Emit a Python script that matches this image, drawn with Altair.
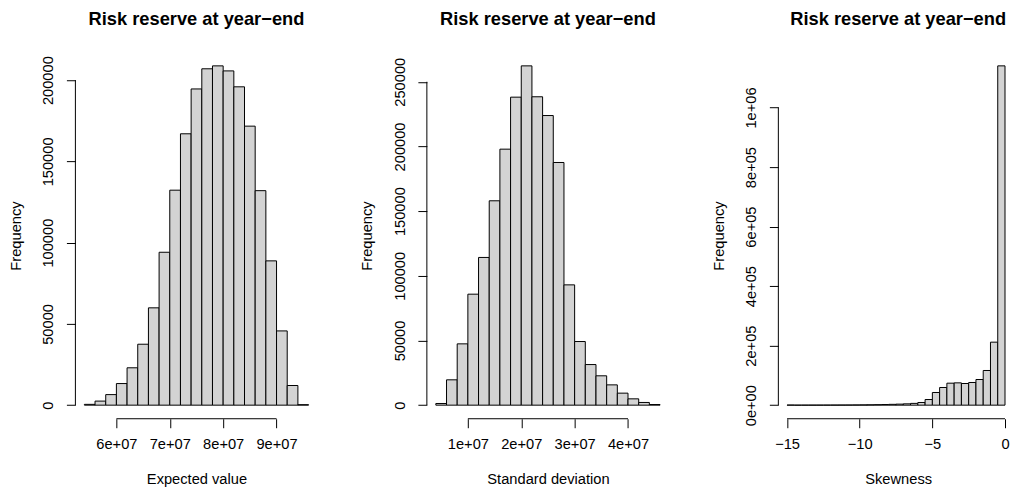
import json
import altair as alt
import pandas as pd

# ---------------- data ----------------
ev_breaks = [54e6, 56e6, 58e6, 60e6, 62e6, 64e6, 66e6, 68e6, 70e6, 72e6, 74e6,
             76e6, 78e6, 80e6, 82e6, 84e6, 86e6, 88e6, 90e6, 92e6, 94e6, 96e6]
ev_counts = [500, 2500, 6500, 13300, 23000, 37500, 59900, 94100, 132300, 167000,
             194600, 207000, 208800, 205700, 195900, 171700, 132000, 88800, 45700,
             12100, 300]
ev_xticks = [60e6, 70e6, 80e6, 90e6]
ev_xlabels = ["6e+07", "7e+07", "8e+07", "9e+07"]
ev_yticks = [0, 50000, 100000, 150000, 200000]
ev_ylabels = ["0", "50000", "100000", "150000", "200000"]

sd_breaks = [4e6, 6e6, 8e6, 10e6, 12e6, 14e6, 16e6, 18e6, 20e6, 22e6, 24e6,
             26e6, 28e6, 30e6, 32e6, 34e6, 36e6, 38e6, 40e6, 42e6, 44e6, 46e6]
sd_counts = [1300, 19600, 47400, 85800, 114200, 158000, 197900, 238100, 262300,
             238400, 223900, 187600, 93000, 49200, 31400, 22700, 15700, 9300,
             4900, 2100, 500]
sd_xticks = [10e6, 20e6, 30e6, 40e6]
sd_xlabels = ["1e+07", "2e+07", "3e+07", "4e+07"]
sd_yticks = [0, 50000, 100000, 150000, 200000, 250000]
sd_ylabels = ["0", "50000", "100000", "150000", "200000", "250000"]

sk_breaks = [-15, -14.5, -14, -13.5, -13, -12.5, -12, -11.5, -11, -10.5, -10,
             -9.5, -9, -8.5, -8, -7.5, -7, -6.5, -6, -5.5, -5, -4.5, -4, -3.5,
             -3, -2.5, -2, -1.5, -1, -0.5, 0]
sk_counts = [400, 100, 150, 200, 250, 300, 400, 500, 600, 800, 1000, 1300, 1700,
             2200, 2800, 3500, 4500, 6000, 9000, 19000, 42600, 59400, 73900,
             75000, 72800, 76200, 86200, 116500, 211700, 1140000]
sk_xticks = [-15, -10, -5, 0]
sk_xlabels = ["\u221215", "\u221210", "\u22125", "0"]
sk_yticks = [0, 200000, 400000, 600000, 800000, 1000000]
sk_ylabels = ["0e+00", "2e+05", "4e+05", "6e+05", "8e+05", "1e+06"]

main_title = "Risk reserve at year\u2212end"
x_titles = ["Expected value", "Standard deviation", "Skewness"]

FONT = "Liberation Sans"
FS = 14.7
H = 367


def lookup_expr(ticks, labels):
    return f"{json.dumps(labels)}[indexof({json.dumps(ticks)}, datum.value)]"


def panel(breaks, counts, xticks, xlabels, yticks, ylabels, xtitle, xdomain, width,
          shift=0.0):
    df = pd.DataFrame({"lo": breaks[:-1], "hi": breaks[1:], "count": counts})
    ymax = max(counts)
    xscale = alt.Scale(domain=xdomain, range=[0, width], nice=False, zero=False)
    yscale = alt.Scale(domain=[-0.04 * ymax, 1.04 * ymax], range=[H, 0],
                       nice=False, zero=False)

    xaxis = alt.Axis(
        values=xticks, labelExpr=lookup_expr(xticks, xlabels), domain=False,
        grid=False, tickSize=9, tickColor="black", tickWidth=1,
        labelFont=FONT, labelFontSize=FS, labelColor="black",
        labelBaseline="alphabetic", labelPadding=21, labelFlush=False,
        labelOverlap=False, title=xtitle, titleFont=FONT, titleFontSize=FS,
        titleFontWeight="normal", titleColor="black", titleX=width / 2 + shift,
        titleY=65, titleBaseline="alphabetic", titleAlign="center",
    )
    yaxis = alt.Axis(
        values=yticks, labelExpr=lookup_expr(yticks, ylabels), domain=False,
        grid=False, tickSize=9, tickColor="black", tickWidth=1,
        labelFont=FONT, labelFontSize=FS, labelColor="black", labelAngle=270,
        labelAlign="center", labelBaseline="alphabetic", labelPadding=13.7,
        labelFlush=False, labelOverlap=False, title="Frequency",
        titleFont=FONT, titleFontSize=FS, titleFontWeight="normal",
        titleColor="black", titleAngle=270, titleX=-55, titleY=H / 2,
        titleAlign="center", titleBaseline="alphabetic",
    )

    bars = alt.Chart(df).mark_rect(
        fill="#d3d3d3", stroke="black", strokeWidth=1, opacity=1
    ).encode(
        x=alt.X("lo:Q", scale=xscale, axis=xaxis),
        x2="hi:Q",
        y=alt.Y("count:Q", scale=yscale, axis=yaxis),
        y2=alt.datum(0),
    )

    xline = alt.Chart(pd.DataFrame({"a": [xticks[0]], "b": [xticks[-1]]})).mark_rule(
        color="black", strokeWidth=1
    ).encode(x=alt.X("a:Q", scale=xscale), x2="b:Q", y=alt.value(H))

    yline = alt.Chart(pd.DataFrame({"a": [yticks[0]], "b": [yticks[-1]]})).mark_rule(
        color="black", strokeWidth=1
    ).encode(y=alt.Y("a:Q", scale=yscale), y2="b:Q", x=alt.value(0))

    return alt.layer(bars, xline, yline).properties(
        width=width, height=H,
        title=alt.TitleParams(
            main_title, font=FONT, fontSize=18.3, fontWeight="bold", color="black",
            anchor="middle", baseline="alphabetic", offset=9, frame="group",
            dx=shift,
        ),
    )


p1 = panel(ev_breaks, ev_counts, ev_xticks, ev_xlabels, ev_yticks, ev_ylabels,
           x_titles[0], [52.32e6, 97.68e6], 242.5)
p2 = panel(sd_breaks, sd_counts, sd_xticks, sd_xlabels, sd_yticks, sd_ylabels,
           x_titles[1], [2.32e6, 47.68e6], 242.5)
p3 = panel(sk_breaks, sk_counts, sk_xticks, sk_xlabels, sk_yticks, sk_ylabels,
           x_titles[2], [-15.6, 0.0], 227.0, shift=6.5)

chart = alt.hconcat(p1, p2, p3, spacing=109, bounds="flush").configure_view(
    stroke=None
).properties(
    padding={"left": 0.5, "top": 1, "right": 0, "bottom": 0},
    background="white",
)

chart.save("out.html", embed_options={"renderer": "svg", "actions": False})
